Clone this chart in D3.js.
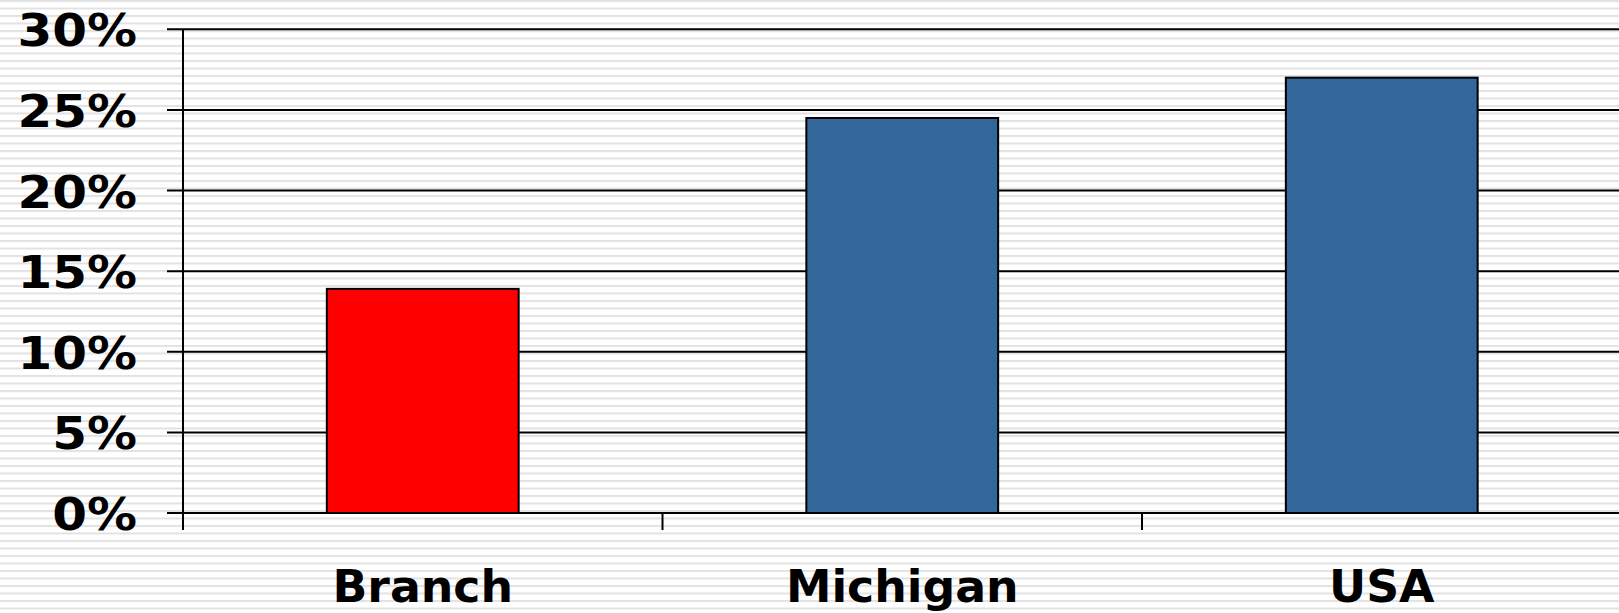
<!DOCTYPE html>
<html>
<head>
<meta charset="utf-8">
<script src="https://cdn.jsdelivr.net/npm/d3@7"></script>
<style>
  html, body { margin: 0; padding: 0; background: #fff; overflow: hidden; }
  svg { display: block; }
</style>
</head>
<body>
<svg id="chart" width="1619" height="613"></svg>
<script>
const categories = ["Branch", "Michigan", "USA"];
const values = [0.139, 0.245, 0.27];
const barColors = ["#FF0000", "#336699", "#336699"];
const yTicks = [0, 0.05, 0.10, 0.15, 0.20, 0.25, 0.30];

const W = 1619, H = 613;
const svg = d3.select("#chart");

// striped background
const defs = svg.append("defs");
const pat = defs.append("pattern")
  .attr("id", "stripes").attr("patternUnits", "userSpaceOnUse")
  .attr("width", 20).attr("height", 7.5);
pat.append("rect").attr("width", 20).attr("height", 7.5).attr("fill", "#ffffff");
pat.append("rect").attr("y", 0).attr("width", 20).attr("height", 2).attr("fill", "#e2e2e2");
svg.append("rect").attr("width", W).attr("height", H).attr("fill", "url(#stripes)");

const x = d3.scaleBand().domain(categories).range([183, 1621.5]).padding(0);
const y = d3.scaleLinear().domain([0, 0.3]).range([513, 29.3]);

// gridlines
svg.append("g").selectAll("line").data(yTicks).join("line")
  .attr("x1", 167).attr("x2", W)
  .attr("y1", d => y(d)).attr("y2", d => y(d))
  .attr("stroke", "#000").attr("stroke-width", 2);

// y axis line
svg.append("line")
  .attr("x1", 183).attr("x2", 183)
  .attr("y1", y(0.3)).attr("y2", y(0) + 17)
  .attr("stroke", "#000").attr("stroke-width", 2);

// x category ticks
svg.append("g").selectAll("line").data(categories.slice(1)).join("line")
  .attr("x1", d => x(d)).attr("x2", d => x(d))
  .attr("y1", y(0)).attr("y2", y(0) + 17)
  .attr("stroke", "#000").attr("stroke-width", 2);

// bars
const bw = x.bandwidth() * 0.4;
svg.append("g").selectAll("rect").data(categories).join("rect")
  .attr("x", d => x(d) + (x.bandwidth() - bw) / 2)
  .attr("width", bw)
  .attr("y", (d, i) => y(values[i]))
  .attr("height", (d, i) => y(0) - y(values[i]))
  .attr("fill", (d, i) => barColors[i])
  .attr("stroke", "#000").attr("stroke-width", 2);

// y labels
svg.append("g").selectAll("text").data(yTicks).join("text")
  .attr("transform", d => `translate(137,${y(d) + 17}) scale(1.11,1)`)
  .attr("text-anchor", "end")
  .attr("font-family", "DejaVu Sans")
  .attr("font-weight", "bold")
  .attr("font-size", 45)
  .text(d => d3.format(".0%")(d));

// x labels
svg.append("g").selectAll("text").data(categories).join("text")
  .attr("transform", d => `translate(${x(d) + x.bandwidth() / 2},602) scale(1.04,1)`)
  .attr("text-anchor", "middle")
  .attr("font-family", "DejaVu Sans")
  .attr("font-weight", "bold")
  .attr("font-size", 44)
  .text(d => d);
</script>
</body>
</html>
